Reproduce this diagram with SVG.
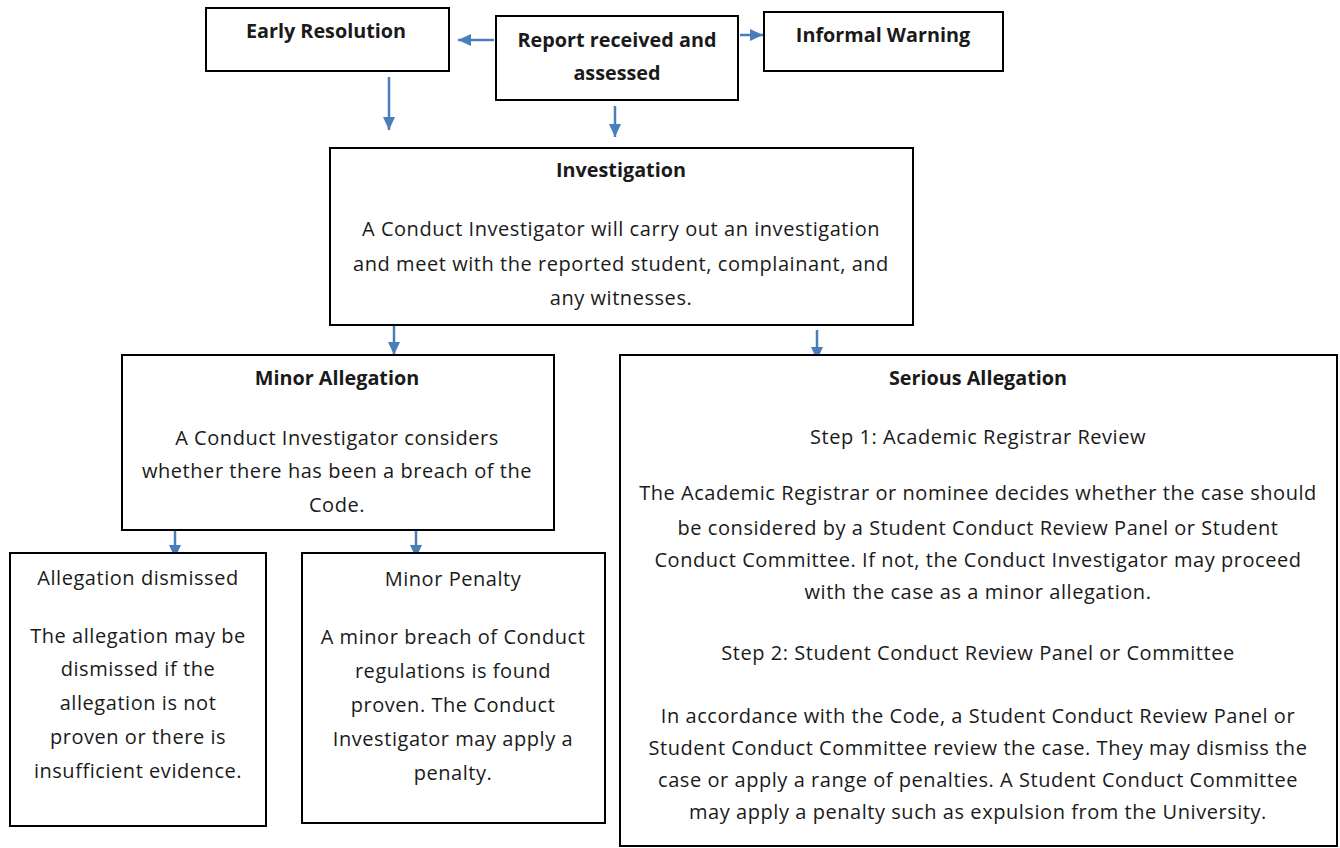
<svg xmlns="http://www.w3.org/2000/svg" width="1340" height="848" viewBox="0 0 1340 848">
<defs>
<marker id="ah" viewBox="0 0 13 12" refX="13" refY="6" markerWidth="13" markerHeight="12" orient="auto" markerUnits="userSpaceOnUse">
<path d="M0,0 L13,6 L0,12 z" fill="#4a7ebb"/>
</marker>
<style>
.box{fill:#fff;stroke:#000;stroke-width:2}
text{font-family:"Open Sans","Liberation Sans",sans-serif;font-size:20px;letter-spacing:0.55px;fill:#1a1a1a;text-anchor:middle}
.b{font-weight:bold;font-size:19.8px;letter-spacing:0}
.c{stroke:#4a7ebb;stroke-width:2.5;fill:none;marker-end:url(#ah)}
</style>
</defs>
<rect width="1340" height="848" fill="#fff"/>
<g id="connectors">
<line class="c" x1="494" y1="40" x2="458" y2="40"/>
<line class="c" x1="740" y1="35" x2="763" y2="35"/>
<line class="c" x1="389" y1="77" x2="389" y2="130"/>
<line class="c" x1="615" y1="106" x2="615" y2="137"/>
<line class="c" x1="394" y1="326" x2="394" y2="355"/>
<line class="c" x1="817" y1="330" x2="817" y2="360"/>
<line class="c" x1="175" y1="531" x2="175" y2="558"/>
<line class="c" x1="416" y1="531" x2="416" y2="558"/>
</g>
<g id="early-resolution">
<rect class="box" x="206" y="8" width="243" height="63"/>
<text class="b" x="326" y="38">Early Resolution</text>
</g>
<g id="report">
<rect class="box" x="496" y="16" width="242" height="84"/>
<text class="b" x="617" y="47">Report received and</text>
<text class="b" x="617" y="80">assessed</text>
</g>
<g id="informal-warning">
<rect class="box" x="764" y="12" width="239" height="59"/>
<text class="b" x="883" y="42">Informal Warning</text>
</g>
<g id="investigation">
<rect class="box" x="330" y="148" width="583" height="177"/>
<text class="b" x="621" y="177">Investigation</text>
<text x="621" y="236">A Conduct Investigator will carry out an investigation</text>
<text x="621" y="271">and meet with the reported student, complainant, and</text>
<text x="621" y="305">any witnesses.</text>
</g>
<g id="minor-allegation">
<rect class="box" x="122" y="355" width="432" height="175"/>
<text class="b" x="337" y="385">Minor Allegation</text>
<text x="337" y="445">A Conduct Investigator considers</text>
<text x="337" y="478">whether there has been a breach of the</text>
<text x="337" y="512">Code.</text>
</g>
<g id="serious-allegation">
<rect class="box" x="620" y="355" width="717" height="491"/>
<text class="b" x="978" y="385">Serious Allegation</text>
<text x="978" y="444">Step 1: Academic Registrar Review</text>
<text x="978" y="500">The Academic Registrar or nominee decides whether the case should</text>
<text x="978" y="535">be considered by a Student Conduct Review Panel or Student</text>
<text x="978" y="567">Conduct Committee. If not, the Conduct Investigator may proceed</text>
<text x="978" y="599">with the case as a minor allegation.</text>
<text x="978" y="660">Step 2: Student Conduct Review Panel or Committee</text>
<text x="978" y="723">In accordance with the Code, a Student Conduct Review Panel or</text>
<text x="978" y="755">Student Conduct Committee review the case. They may dismiss the</text>
<text x="978" y="787">case or apply a range of penalties. A Student Conduct Committee</text>
<text x="978" y="819">may apply a penalty such as expulsion from the University.</text>
</g>
<g id="allegation-dismissed">
<rect class="box" x="10" y="553" width="256" height="273"/>
<text x="138" y="585">Allegation dismissed</text>
<text x="138" y="643">The allegation may be</text>
<text x="138" y="676">dismissed if the</text>
<text x="138" y="710">allegation is not</text>
<text x="138" y="744">proven or there is</text>
<text x="138" y="778">insufficient evidence.</text>
</g>
<g id="minor-penalty">
<rect class="box" x="302" y="553" width="303" height="270"/>
<text x="453" y="586">Minor Penalty</text>
<text x="453" y="644">A minor breach of Conduct</text>
<text x="453" y="678">regulations is found</text>
<text x="453" y="712">proven. The Conduct</text>
<text x="453" y="746">Investigator may apply a</text>
<text x="453" y="780">penalty.</text>
</g>
</svg>
